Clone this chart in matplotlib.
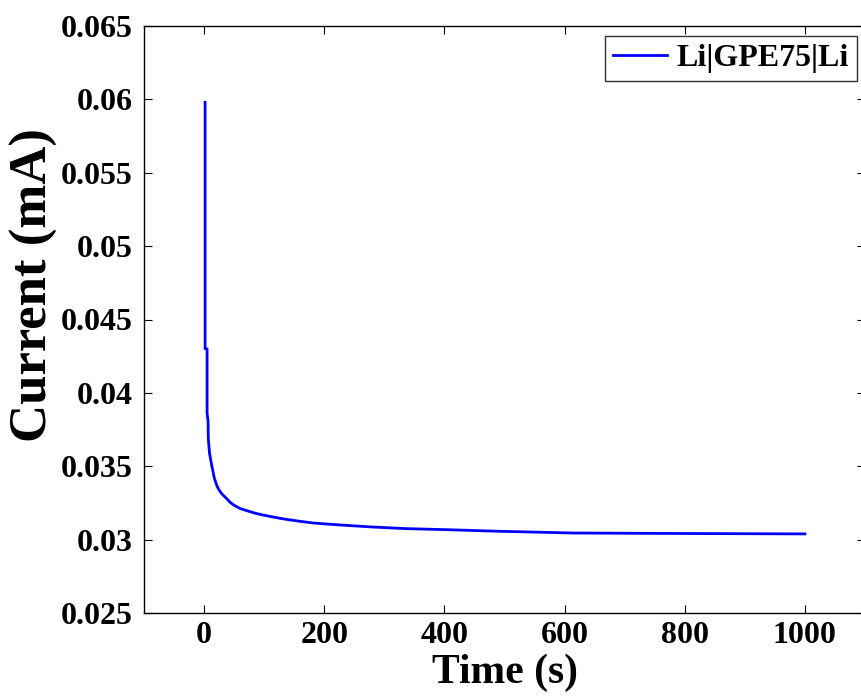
import matplotlib
matplotlib.use("Agg")
import matplotlib.pyplot as plt

# chronoamperometry data
time_s = [1.7, 1.7, 5.0, 5.0, 6.6, 7, 9, 13, 17, 21, 25, 30, 37, 43, 50, 60, 73,
          85, 100, 115, 128, 142, 156, 180, 208, 241, 280, 336, 402, 490, 615,
          780, 1000]
current_mA = [0.0598, 0.0430, 0.0430, 0.0386, 0.0381, 0.0369, 0.0359, 0.0350,
              0.0342, 0.0337, 0.03337, 0.0331, 0.03282, 0.03255, 0.03234,
              0.03212, 0.03195, 0.0318, 0.03166, 0.03154, 0.03144, 0.03135,
              0.03127, 0.03114, 0.03105, 0.03096, 0.03086, 0.03075, 0.03068,
              0.03057, 0.03045, 0.03042, 0.03039]

x_ticks = [0, 200, 400, 600, 800, 1000]
y_ticks = [0.025, 0.03, 0.035, 0.04, 0.045, 0.05, 0.055, 0.06, 0.065]
y_labels = ['0.025', '0.03', '0.035', '0.04', '0.045', '0.05', '0.055', '0.06', '0.065']

plt.rcParams['font.family'] = ['Liberation Serif', 'DejaVu Serif']
plt.rcParams['font.weight'] = 'bold'

fig = plt.figure(figsize=(8.61, 7.0), dpi=100)
ax = fig.add_axes([144 / 861, 87 / 700, 721 / 861, 587 / 700])

ax.plot(time_s, current_mA, color='blue', lw=2.0, label='Li|GPE75|Li')

ax.set_xlim(-100, 1100)
ax.set_ylim(0.025, 0.065)
ax.set_xticks(x_ticks)
ax.set_yticks(y_ticks)
ax.set_yticklabels(y_labels)
ax.tick_params(direction='in', length=6, width=0.8, top=True, right=True,
               labelsize=23)
ax.tick_params(axis='x', pad=6)
ax.tick_params(axis='y', pad=8)
for lab in ax.get_xticklabels() + ax.get_yticklabels():
    lab.set_fontweight('bold')
for sp in ax.spines.values():
    sp.set_linewidth(1.0)

ax.set_xlabel('Time (s)', fontsize=30, fontweight='bold', labelpad=2)
ax.set_ylabel('Current (mA)', fontsize=38, fontweight='bold')
ax.yaxis.set_label_coords(-0.119, 0.559)

leg = ax.legend(loc='upper right', bbox_to_anchor=(857 / 861, 1 - 36 / 700),
                bbox_transform=fig.transFigure, borderaxespad=0,
                fancybox=False, handlelength=1.7, handletextpad=0.3,
                borderpad=0.25, prop={'size': 23, 'weight': 'bold'})
leg.get_frame().set_edgecolor('black')
leg.get_frame().set_linewidth(1.0)

fig.savefig('out.png', dpi=100)
